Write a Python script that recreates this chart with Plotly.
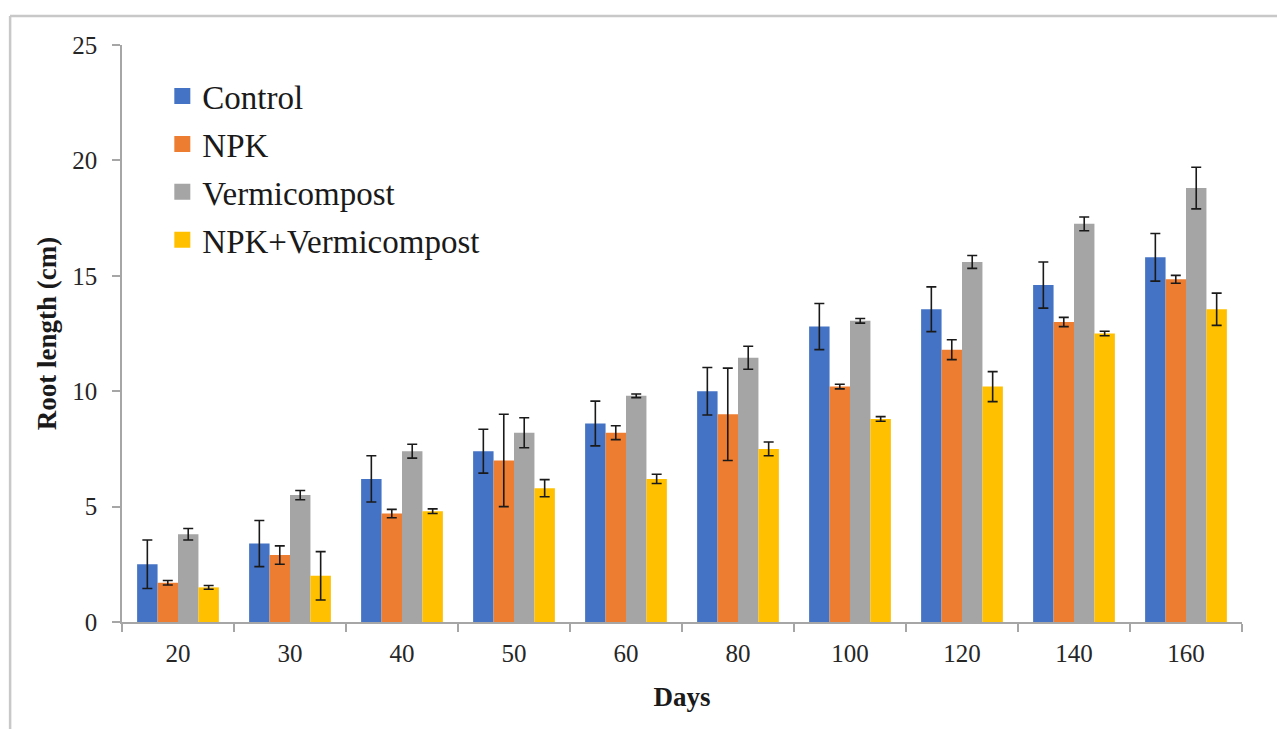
import plotly.graph_objects as go

# Root length (cm) over time for each treatment, with standard-error bars
days = ["20", "30", "40", "50", "60", "80", "100", "120", "140", "160"]

control = [2.5, 3.4, 6.2, 7.4, 8.6, 10.0, 12.8, 13.55, 14.6, 15.8]
control_err = [1.05, 1.0, 1.0, 0.95, 0.97, 1.03, 1.0, 0.97, 1.0, 1.03]

npk = [1.7, 2.9, 4.7, 7.0, 8.2, 9.0, 10.2, 11.8, 13.0, 14.85]
npk_err = [0.1, 0.4, 0.18, 2.0, 0.3, 2.0, 0.1, 0.43, 0.2, 0.17]

vermicompost = [3.8, 5.5, 7.4, 8.2, 9.8, 11.45, 13.05, 15.6, 17.25, 18.8]
vermicompost_err = [0.25, 0.2, 0.3, 0.65, 0.08, 0.5, 0.1, 0.28, 0.3, 0.9]

npk_vermi = [1.5, 2.0, 4.8, 5.8, 6.2, 7.5, 8.8, 10.2, 12.5, 13.55]
npk_vermi_err = [0.08, 1.05, 0.1, 0.37, 0.2, 0.3, 0.1, 0.65, 0.1, 0.7]

series_names = ["Control", "NPK", "Vermicompost", "NPK+Vermicompost"]
series_values = [control, npk, vermicompost, npk_vermi]
series_errors = [control_err, npk_err, vermicompost_err, npk_vermi_err]
colors = ["#4472C4", "#ED7D31", "#A5A5A5", "#FFC000"]

FONT = "'Liberation Serif', 'Times New Roman', serif"
AXIS_GREY = "#a6a6a6"

fig = go.Figure()

for name, vals, errs, col in zip(series_names, series_values, series_errors, colors):
    fig.add_trace(go.Bar(
        x=days, y=vals, name=name, legendgroup=name,
        marker=dict(color=col, line=dict(width=0)),
        error_y=dict(type="data", array=errs, visible=True,
                     color="#1a1a1a", thickness=1.6, width=5),
        showlegend=False,
    ))

# Legend entries with larger square swatches
for name, col in zip(series_names, colors):
    fig.add_trace(go.Scatter(
        x=[None], y=[None], mode="markers", name=name, legendgroup=name,
        marker=dict(symbol="square", size=16, color=col),
        showlegend=True,
    ))

fig.update_layout(
    width=1277, height=729,
    margin=dict(l=122, r=35, t=45, b=107),
    paper_bgcolor="white", plot_bgcolor="white",
    barmode="group", bargap=0.27, bargroupgap=0.0,
    font=dict(family=FONT, color="#262626"),
    legend=dict(
        x=0.036, y=0.96, xanchor="left", yanchor="top",
        font=dict(family=FONT, size=33, color="#1a1a1a"),
        bgcolor="rgba(0,0,0,0)", itemsizing="trace",
        traceorder="grouped", tracegroupgap=2,
    ),
    xaxis=dict(
        type="category",
        showline=True, linecolor=AXIS_GREY, linewidth=1.5,
        ticks="outside", tickson="boundaries", ticklen=8,
        tickcolor=AXIS_GREY, tickwidth=1.5,
        tickfont=dict(family=FONT, size=25, color="#262626"),
        ticklabelstandoff=8,
        showgrid=False,
        title=dict(text="<b>Days</b>", standoff=21,
                   font=dict(family=FONT, size=27, color="#1a1a1a")),
    ),
    yaxis=dict(
        range=[0, 25], dtick=5,
        showline=True, linecolor=AXIS_GREY, linewidth=1.5,
        ticks="outside", ticklen=8, tickcolor=AXIS_GREY, tickwidth=1.5,
        tickfont=dict(family=FONT, size=25, color="#262626"),
        ticklabelstandoff=10,
        showgrid=False, zeroline=False,
        title=dict(text="<b>Root length (cm)</b>", standoff=8,
                   font=dict(family=FONT, size=27, color="#1a1a1a")),
    ),
    shapes=[
        dict(type="line", xref="paper", yref="paper",
             x0=-0.10, x1=1.04, y0=1.0503, y1=1.0503,
             line=dict(color="#c8c8c8", width=2.5)),
        dict(type="line", xref="paper", yref="paper",
             x0=-0.0999, x1=-0.0999, y0=1.0503, y1=-0.19,
             line=dict(color="#c8c8c8", width=2.5)),
    ],
)

fig.write_html("out.html")
